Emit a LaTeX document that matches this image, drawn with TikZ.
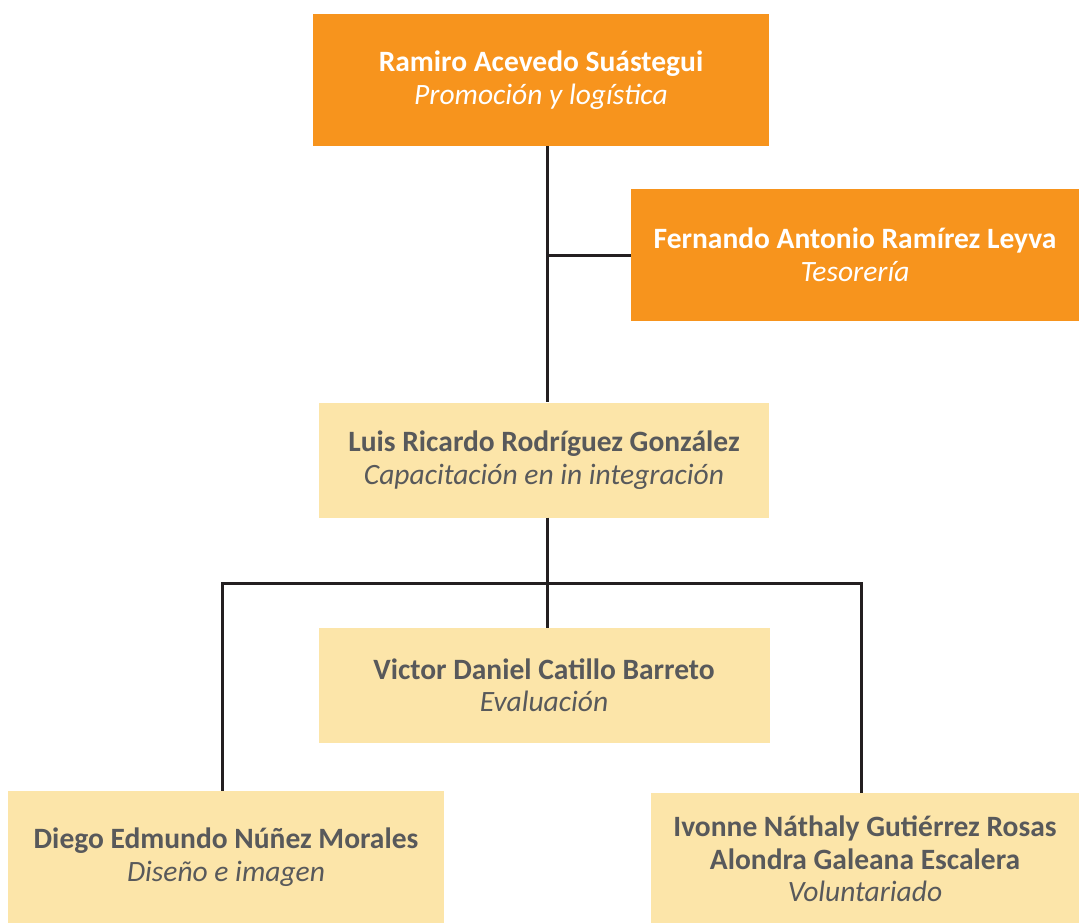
\documentclass[tikz,border=0pt]{standalone}
\usepackage{fontspec}
\setmainfont{Carlito}
\usetikzlibrary{positioning}
\definecolor{org_orange}{RGB}{247,148,29}
\definecolor{light_yellow}{RGB}{252,229,169}
\definecolor{text_grey}{RGB}{88,89,91}
\definecolor{line_grey}{RGB}{35,31,32}

\tikzset{
	head/.style={rectangle, fill=org_orange, text=white, align=center, inner sep=0pt, font=\fontsize{29.5}{32.5}\selectfont},
	member/.style={rectangle, fill=light_yellow, text=text_grey, align=center, inner sep=0pt, font=\fontsize{29.5}{32.5}\selectfont},
	link/.style={draw=line_grey, line width=3pt}
}

\begin{document}
\begin{tikzpicture}[x=1pt, y=-1pt]

	\useasboundingbox (0,0) rectangle (1079,923);

	% --- Begin Head Nodes ---
	\node [head, minimum width=456pt, minimum height=132pt] (Ramiro) at (541,80) {
		\textbf{Ramiro Acevedo Suástegui} \\
		\textit{Promoción y logística}
	};
	\node [head, minimum width=448pt, minimum height=132pt] (Fernando) at (855,255) {
		\textbf{Fernando Antonio Ramírez Leyva} \\
		\textit{Tesorería}
	};
	% --- End Head Nodes ---

	% --- Begin Member Nodes ---
	\node [member, minimum width=450pt, minimum height=115pt] (Luis) at (544,460) {
		\textbf{Luis Ricardo Rodríguez González} \\
		\textit{Capacitación en in integración}
	};
	\node [member, minimum width=451pt, minimum height=115pt, below=110pt of Luis] (Victor) {
		\textbf{Victor Daniel Catillo Barreto} \\
		\textit{Evaluación}
	};
	\node [member, minimum width=436pt, minimum height=132pt] (Diego) at (226,857) {
		\textbf{Diego Edmundo Núñez Morales} \\
		\textit{Diseño e imagen}
	};
	\node [member, minimum width=428pt, minimum height=132pt] (Ivonne) at (865,859) {
		\textbf{Ivonne Náthaly Gutiérrez Rosas} \\
		\textbf{Alondra Galeana Escalera} \\
		\textit{Voluntariado}
	};
	% --- End Member Nodes ---

	% Trunk and branch heights.
	\coordinate (trunk) at (547,0);
	\coordinate (bar) at (0,583);

	% Connect the nodes.
	\draw[link] (Ramiro.south -| trunk) -- (Luis.north -| trunk);
	\draw[link] (Fernando.west) -- (Fernando.west -| trunk);
	\draw[link] (Luis.south -| trunk) -- (Victor.north -| trunk);
	\draw[link] ([xshift=-4pt]Diego.north) |- (trunk |- bar) -| ([xshift=-4pt]Ivonne.north);

\end{tikzpicture}
\end{document}
